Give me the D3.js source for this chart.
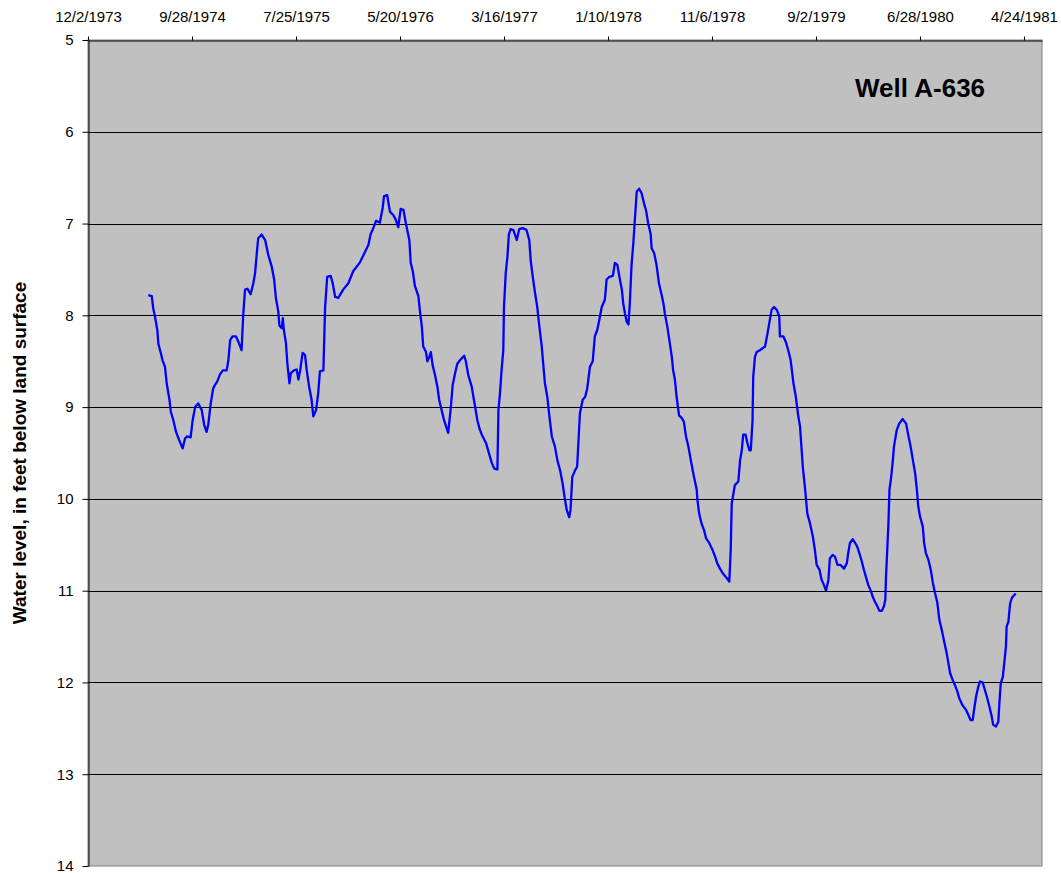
<!DOCTYPE html>
<html>
<head>
<meta charset="utf-8">
<script src="https://cdn.jsdelivr.net/npm/d3@7"></script>
<style>
  body { margin: 0; background: #fff; }
  svg { display: block; font-family: Arial, "Liberation Sans", sans-serif; }
</style>
</head>
<body>
<svg id="chart"></svg>
<script>
// series starts on this date; each reading is stored as days after it
let startDate = "1973-12-02";
let axisEndDay = 2752;
let tickStepDays = 300;
let tickCount = 10;

let dayOffsets = [
  174, 184, 188, 193, 200, 203, 210, 215, 222, 227, 235, 239, 246, 254, 263, 273, 280, 286, 296, 302,
  309, 318, 328, 335, 342, 347, 354, 361, 366, 373, 381, 389, 400, 405, 410, 417, 427, 434, 443, 448,
  453, 460, 469, 477, 482, 487, 491, 501, 511, 520, 530, 537, 542, 549, 552, 559, 562, 565, 571, 575,
  581, 585, 594, 602, 607, 612, 619, 626, 631, 638, 645, 650, 658, 664, 669, 679, 684, 690, 700, 706,
  713, 722, 736, 751, 765, 785, 799, 809, 815, 823, 831, 842, 850, 854, 863, 871, 881, 888, 895, 902,
  910, 917, 927, 931, 937, 943, 953, 958, 963, 967, 975, 979, 985, 989, 994, 1001, 1008, 1013, 1020, 1027,
  1033, 1039, 1046, 1052, 1059, 1065, 1073, 1085, 1090, 1097, 1107, 1116, 1123, 1129, 1136, 1148, 1158, 1165, 1172, 1181,
  1184, 1188, 1193, 1198, 1200, 1205, 1210, 1214, 1219, 1227, 1237, 1244, 1254, 1265, 1273, 1277, 1283, 1289, 1296, 1302,
  1309, 1313, 1318, 1325, 1331, 1338, 1347, 1354, 1362, 1369, 1376, 1381, 1388, 1392, 1397, 1405, 1411, 1416, 1419, 1427,
  1434, 1440, 1448, 1456, 1462, 1469, 1475, 1482, 1491, 1496, 1504, 1514, 1520, 1527, 1533, 1540, 1544, 1549, 1554, 1559,
  1563, 1568, 1573, 1578, 1583, 1590, 1597, 1604, 1610, 1616, 1623, 1626, 1633, 1640, 1647, 1655, 1660, 1664, 1671, 1677,
  1684, 1688, 1693, 1698, 1705, 1713, 1719, 1725, 1732, 1739, 1746, 1751, 1756, 1758, 1763, 1770, 1777, 1783, 1792, 1802,
  1809, 1815, 1823, 1831, 1840, 1850, 1854, 1857, 1861, 1866, 1876, 1881, 1886, 1890, 1897, 1902, 1908, 1912, 1917, 1919,
  1924, 1929, 1938, 1953, 1960, 1965, 1972, 1979, 1987, 1994, 1996, 2006, 2013, 2020, 2027, 2035, 2042, 2049, 2054, 2062,
  2068, 2075, 2083, 2091, 2097, 2102, 2110, 2116, 2123, 2129, 2136, 2140, 2148, 2155, 2162, 2171, 2181, 2189, 2193, 2198,
  2206, 2213, 2219, 2225, 2232, 2238, 2244, 2251, 2258, 2264, 2270, 2277, 2283, 2290, 2296, 2300, 2302, 2306, 2309, 2312,
  2316, 2321, 2325, 2328, 2333, 2340, 2350, 2360, 2366, 2373, 2381, 2386, 2391, 2395, 2400, 2408, 2412, 2417, 2424, 2431,
  2437, 2443, 2450, 2456, 2463, 2469, 2477, 2482, 2487, 2494, 2501, 2508, 2513, 2523, 2533, 2539, 2546, 2552, 2556, 2562,
  2568, 2573, 2581, 2587, 2594, 2600, 2607, 2611, 2619, 2626, 2629, 2633, 2639, 2642, 2648, 2650, 2655, 2660, 2665, 2669,
  2676
];

// water level, feet below land surface
let waterLevels = [
  7.78, 7.79, 7.92, 8.01, 8.16, 8.31, 8.41, 8.49, 8.56, 8.74, 8.92, 9.05, 9.14, 9.27, 9.36, 9.45, 9.34, 9.32, 9.33, 9.14,
  9.00, 8.96, 9.03, 9.19, 9.27, 9.19, 8.96, 8.80, 8.76, 8.72, 8.64, 8.60, 8.60, 8.49, 8.27, 8.23, 8.23, 8.29, 8.38, 7.98,
  7.72, 7.71, 7.77, 7.65, 7.54, 7.32, 7.16, 7.12, 7.18, 7.34, 7.47, 7.61, 7.81, 7.96, 8.11, 8.14, 8.03, 8.16, 8.30, 8.52,
  8.74, 8.63, 8.60, 8.59, 8.70, 8.60, 8.41, 8.43, 8.60, 8.78, 8.92, 9.10, 9.03, 8.85, 8.61, 8.60, 7.91, 7.58, 7.57, 7.65,
  7.80, 7.81, 7.72, 7.65, 7.52, 7.42, 7.31, 7.23, 7.12, 7.05, 6.97, 6.99, 6.83, 6.70, 6.69, 6.87, 6.91, 6.96, 7.04, 6.84,
  6.85, 7.00, 7.18, 7.43, 7.52, 7.68, 7.79, 7.97, 8.12, 8.34, 8.40, 8.50, 8.45, 8.40, 8.54, 8.65, 8.78, 8.92, 9.03, 9.14,
  9.21, 9.28, 9.03, 8.76, 8.63, 8.53, 8.49, 8.44, 8.50, 8.65, 8.78, 8.98, 9.14, 9.23, 9.30, 9.39, 9.52, 9.61, 9.67, 9.68,
  9.03, 8.87, 8.60, 8.38, 7.91, 7.54, 7.36, 7.12, 7.06, 7.07, 7.18, 7.06, 7.05, 7.07, 7.18, 7.40, 7.58, 7.74, 7.91, 8.12,
  8.34, 8.52, 8.74, 8.89, 9.10, 9.32, 9.43, 9.58, 9.69, 9.83, 10.01, 10.12, 10.20, 10.12, 9.76, 9.69, 9.65, 9.29, 9.07, 8.92,
  8.89, 8.80, 8.56, 8.50, 8.23, 8.16, 8.05, 7.91, 7.83, 7.61, 7.58, 7.57, 7.43, 7.45, 7.58, 7.72, 7.87, 7.98, 8.07, 8.10,
  7.87, 7.45, 7.22, 6.93, 6.65, 6.62, 6.67, 6.78, 6.86, 7.00, 7.11, 7.27, 7.32, 7.45, 7.65, 7.78, 7.87, 7.98, 8.12, 8.27,
  8.45, 8.60, 8.70, 8.89, 9.09, 9.12, 9.16, 9.32, 9.43, 9.58, 9.72, 9.81, 9.90, 10.01, 10.16, 10.27, 10.34, 10.43, 10.48, 10.56,
  10.63, 10.70, 10.76, 10.81, 10.85, 10.90, 10.56, 10.05, 9.96, 9.85, 9.81, 9.58, 9.47, 9.30, 9.30, 9.39, 9.47, 9.47, 9.14, 8.67,
  8.45, 8.40, 8.38, 8.34, 8.20, 8.09, 7.94, 7.91, 7.94, 8.01, 8.23, 8.23, 8.29, 8.38, 8.49, 8.74, 8.89, 9.10, 9.21, 9.65,
  9.87, 10.16, 10.27, 10.41, 10.56, 10.72, 10.77, 10.88, 10.94, 11.00, 10.88, 10.65, 10.61, 10.63, 10.72, 10.72, 10.76, 10.70, 10.59, 10.48,
  10.44, 10.48, 10.52, 10.59, 10.68, 10.77, 10.85, 10.94, 11.00, 11.07, 11.12, 11.17, 11.22, 11.22, 11.17, 11.10, 10.85, 10.52, 10.27, 9.90,
  9.79, 9.61, 9.43, 9.36, 9.25, 9.18, 9.13, 9.18, 9.30, 9.43, 9.61, 9.72, 9.90, 10.08, 10.19, 10.30, 10.48, 10.59, 10.66, 10.77,
  10.91, 11.02, 11.13, 11.32, 11.43, 11.54, 11.68, 11.79, 11.90, 11.97, 12.03, 12.10, 12.17, 12.25, 12.30, 12.35, 12.41, 12.41, 12.30, 12.15,
  12.05, 11.99, 12.00, 12.08, 12.17, 12.26, 12.37, 12.46, 12.48, 12.43, 12.23, 12.01, 11.94, 11.83, 11.61, 11.39, 11.34, 11.14, 11.08, 11.06,
  11.03
];

let yTicks = [5, 6, 7, 8, 9, 10, 11, 12, 13, 14];
let chartTitle = "Well A-636";
let yTitle = "Water level, in feet below land surface";

let w = 1061;
let h = 873;
let plot = { left: 88, top: 40, right: 1042, bottom: 866 };
let dayMs = 24 * 60 * 60 * 1000;

let start = new Date(startDate + "T00:00:00Z");
let toDate = d => new Date(start.getTime() + d * dayMs);

let values = dayOffsets.map((d, i) => ({ date: toDate(d), level: waterLevels[i] }));
let tickDates = d3.range(tickCount).map(k => toDate(k * tickStepDays));

let svg = d3.select('#chart')
            .attr('width', w)
            .attr('height', h);

let xScale = d3.scaleUtc()
               .domain([start, toDate(axisEndDay)])
               .range([plot.left, plot.right]);

let yScale = d3.scaleLinear()
               .domain([d3.min(yTicks), d3.max(yTicks)]) // depth grows downward
               .range([plot.top, plot.bottom]);

// plot background
svg.append('rect')
   .attr('x', plot.left)
   .attr('y', plot.top)
   .attr('width', plot.right - plot.left)
   .attr('height', plot.bottom - plot.top)
   .attr('fill', '#c0c0c0')
   .attr('stroke', '#808080')
   .attr('stroke-width', 1);

// horizontal gridlines
svg.append('g')
   .selectAll('line')
   .data(yTicks.slice(1, -1))
   .enter()
   .append('line')
   .attr('x1', plot.left)
   .attr('x2', plot.right)
   .attr('y1', d => Math.round(yScale(d)) + 0.5)
   .attr('y2', d => Math.round(yScale(d)) + 0.5)
   .attr('stroke', '#000')
   .attr('stroke-width', 1);

// hydrograph
let line = d3.line()
             .x(d => xScale(d.date))
             .y(d => yScale(d.level));

svg.append('path')
   .datum(values)
   .attr('d', line)
   .attr('fill', 'none')
   .attr('stroke', '#0000ff')
   .attr('stroke-width', 2.3)
   .attr('stroke-linejoin', 'round');

// axes
let xAxis = d3.axisTop(xScale)
              .tickValues(tickDates)
              .tickFormat(d3.utcFormat('%-m/%-d/%Y'))
              .tickSize(4)
              .tickSizeOuter(0)
              .tickPadding(15);

svg.append('g')
   .attr('id', 'x-axis')
   .attr('transform', 'translate(0, ' + (plot.top + 0.5) + ')')
   .call(xAxis)
   .call(g => g.select('.domain').attr('stroke', '#000'))
   .call(g => g.selectAll('text').attr('font-size', 15).attr('font-family', null).attr('fill', '#000'));

let yAxis = d3.axisLeft(yScale)
              .tickValues(yTicks)
              .tickFormat(d3.format('d'))
              .tickSize(6)
              .tickSizeOuter(0)
              .tickPadding(9);

svg.append('g')
   .attr('id', 'y-axis')
   .attr('transform', 'translate(' + (plot.left + 0.5) + ', 0)')
   .call(yAxis)
   .call(g => g.select('.domain').attr('stroke', '#000'))
   .call(g => g.selectAll('text').attr('font-size', 15).attr('font-family', null).attr('fill', '#000'));

// titles
svg.append('text')
   .attr('x', 855)
   .attr('y', 97)
   .attr('font-size', 26)
   .attr('font-weight', 'bold')
   .text(chartTitle);

svg.append('text')
   .attr('transform', 'translate(26, ' + ((plot.top + plot.bottom) / 2) + ') rotate(-90)')
   .attr('text-anchor', 'middle')
   .attr('font-size', 19)
   .attr('font-weight', 'bold')
   .text(yTitle);
</script>
</body>
</html>
